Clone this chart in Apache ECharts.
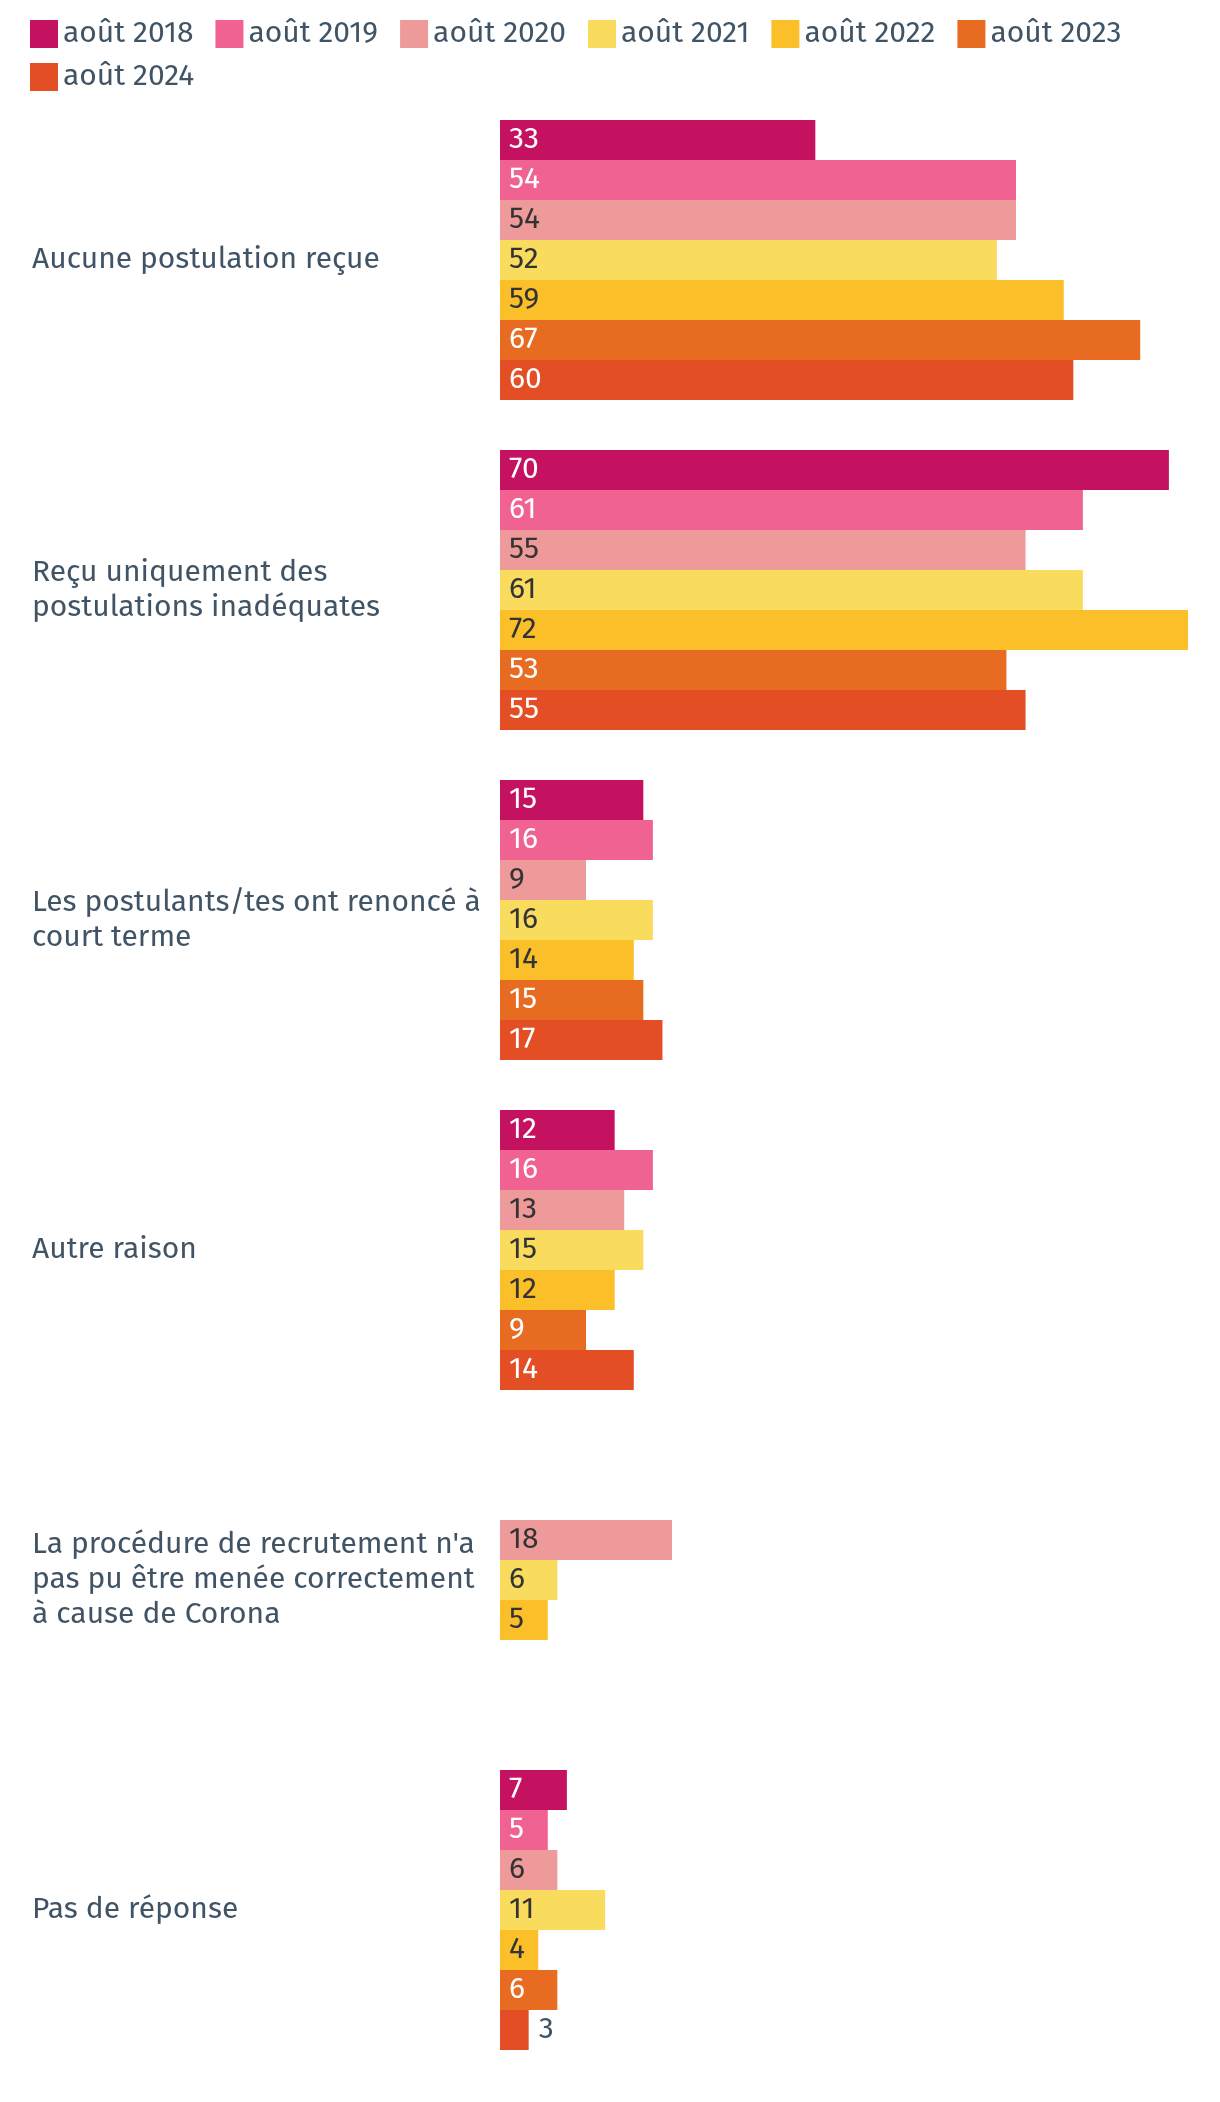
<!DOCTYPE html>
<html><head><meta charset="utf-8">
<script src="https://cdn.jsdelivr.net/npm/echarts@6/dist/echarts.min.js"></script>
<style>html,body{margin:0;padding:0;background:#fff}#c{width:1220px;height:2102px}</style>
</head><body><div id="c"></div>
<script>
const categories = [
  "Aucune postulation reçue",
  "Reçu uniquement des\npostulations inadéquates",
  "Les postulants/tes ont renoncé à\ncourt terme",
  "Autre raison",
  "La procédure de recrutement n'a\npas pu être menée correctement\nà cause de Corona",
  "Pas de réponse"
];
const seriesNames = ["août 2018", "août 2019", "août 2020", "août 2021", "août 2022", "août 2023", "août 2024"];
const v2018 = [33, 70, 15, 12, null, 7];
const v2019 = [54, 61, 16, 16, null, 5];
const v2020 = [54, 55, 9, 13, 18, 6];
const v2021 = [52, 61, 16, 15, 6, 11];
const v2022 = [59, 72, 14, 12, 5, 4];
const v2023 = [67, 53, 15, 9, null, 6];
const v2024 = [60, 55, 17, 14, null, 3];
const seriesValues = [v2018, v2019, v2020, v2021, v2022, v2023, v2024];

const colors = ["#c41160", "#f06292", "#ee9a9a", "#f9db5e", "#fbbf2a", "#e86b22", "#e44e24"];
const labelColors = ["#ffffff", "#ffffff", "#333333", "#333333", "#333333", "#ffffff", "#ffffff"];
const textColor = "#405466";
const FONT = "'Fira Sans', 'Open Sans', sans-serif";

const chart = echarts.init(document.getElementById('c'), null, {renderer: 'canvas'});

const series = seriesNames.map((name, i) => ({
  name: name,
  type: 'bar',
  barWidth: 40,
  barGap: '0%',
  itemStyle: {color: colors[i]},
  label: {
    show: true,
    position: 'insideLeft',
    distance: 9,
    color: labelColors[i],
    fontFamily: FONT,
    fontSize: 30,
    padding: [3, 0, 0, 0]
  },
  data: seriesValues[i].map(v => {
    if (v === null) return null;
    if (v <= 3) {
      return {value: v, label: {position: 'right', distance: 10, color: textColor}};
    }
    return v;
  })
}));

chart.setOption({
  animation: false,
  backgroundColor: '#ffffff',
  color: colors,
  textStyle: {fontFamily: FONT},
  legend: {
    left: 25,
    top: 14,
    right: 20,
    itemWidth: 28,
    itemHeight: 28,
    itemGap: 13,
    icon: 'rect',
    textStyle: {fontFamily: FONT, fontSize: 30, lineHeight: 28, color: textColor, padding: [0, 9, 0, 0]},
    data: seriesNames
  },
  grid: {left: 500, right: 32, top: 95, bottom: 27, containLabel: false},
  xAxis: {
    type: 'value', min: 0, max: 72, show: false
  },
  yAxis: {
    type: 'category',
    inverse: true,
    data: categories,
    axisLine: {show: false},
    axisTick: {show: false},
    splitLine: {show: false},
    axisLabel: {
      align: 'left',
      margin: 468,
      color: textColor,
      fontFamily: FONT,
      fontSize: 30,
      lineHeight: 35,
      padding: [4, 0, 0, 0]
    }
  },
  series: series
});
</script>
</body></html>
